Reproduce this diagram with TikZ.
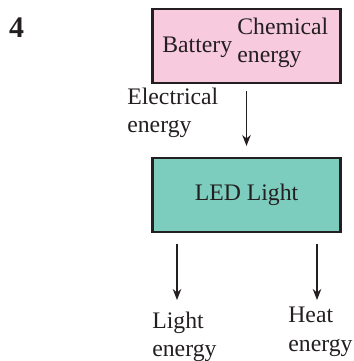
\documentclass[tikz,border=0pt]{standalone}
\usepackage{fontspec}
\setmainfont{Liberation Serif}
\usetikzlibrary{arrows.meta}
\definecolor{battpink}{RGB}{248,202,222}
\definecolor{ledteal}{RGB}{125,205,190}
\definecolor{boxline}{RGB}{35,31,32}
\tikzset{
  unitbox/.style={draw=boxline,line width=1.2pt,minimum width=3.76cm,minimum height=1.48cm,inner sep=0pt},
  flow/.style={->,line width=0.6pt,draw=boxline},
  lbl/.style={anchor=north west,inner sep=0pt,align=left,text=boxline}
}
\begin{document}
\begin{tikzpicture}[font=\fontsize{13.5}{16}\selectfont,>={Stealth[length=0.22cm,width=0.17cm]}]
\useasboundingbox (0,0) rectangle (7.08,7.22);
\node[font=\fontsize{17}{18}\selectfont\bfseries,text=boxline] (num) at (0.33,6.67) {4};
% source box
\node[unitbox,fill=battpink] (batt) at (4.93,6.30) {};
\node[anchor=base west,inner sep=0pt,text=boxline] (battlbl) at (3.24,6.16) {Battery};
\node[lbl] (chem) at (4.74,6.86) {Chemical\\energy};
% device box
\node[unitbox,fill=ledteal,text=boxline] (led) at (4.93,3.32) {LED Light};
\draw[flow,shorten <=0.14cm,shorten >=0.22cm] (batt.south) -- (led.north);
\node[lbl] (elec) at (2.54,5.46) {Electrical\\energy};
% outputs
\coordinate (lightend) at (3.54,1.22);
\coordinate (heatend) at (6.34,1.22);
\draw[flow,shorten <=0.22cm] (led.south -| lightend) -- (lightend);
\draw[flow,shorten <=0.22cm] (led.south -| heatend) -- (heatend);
\node[lbl] (light) at (3.04,0.98) {Light\\energy};
\node[lbl] (heat) at (5.76,1.08) {Heat\\energy};
\end{tikzpicture}
\end{document}
